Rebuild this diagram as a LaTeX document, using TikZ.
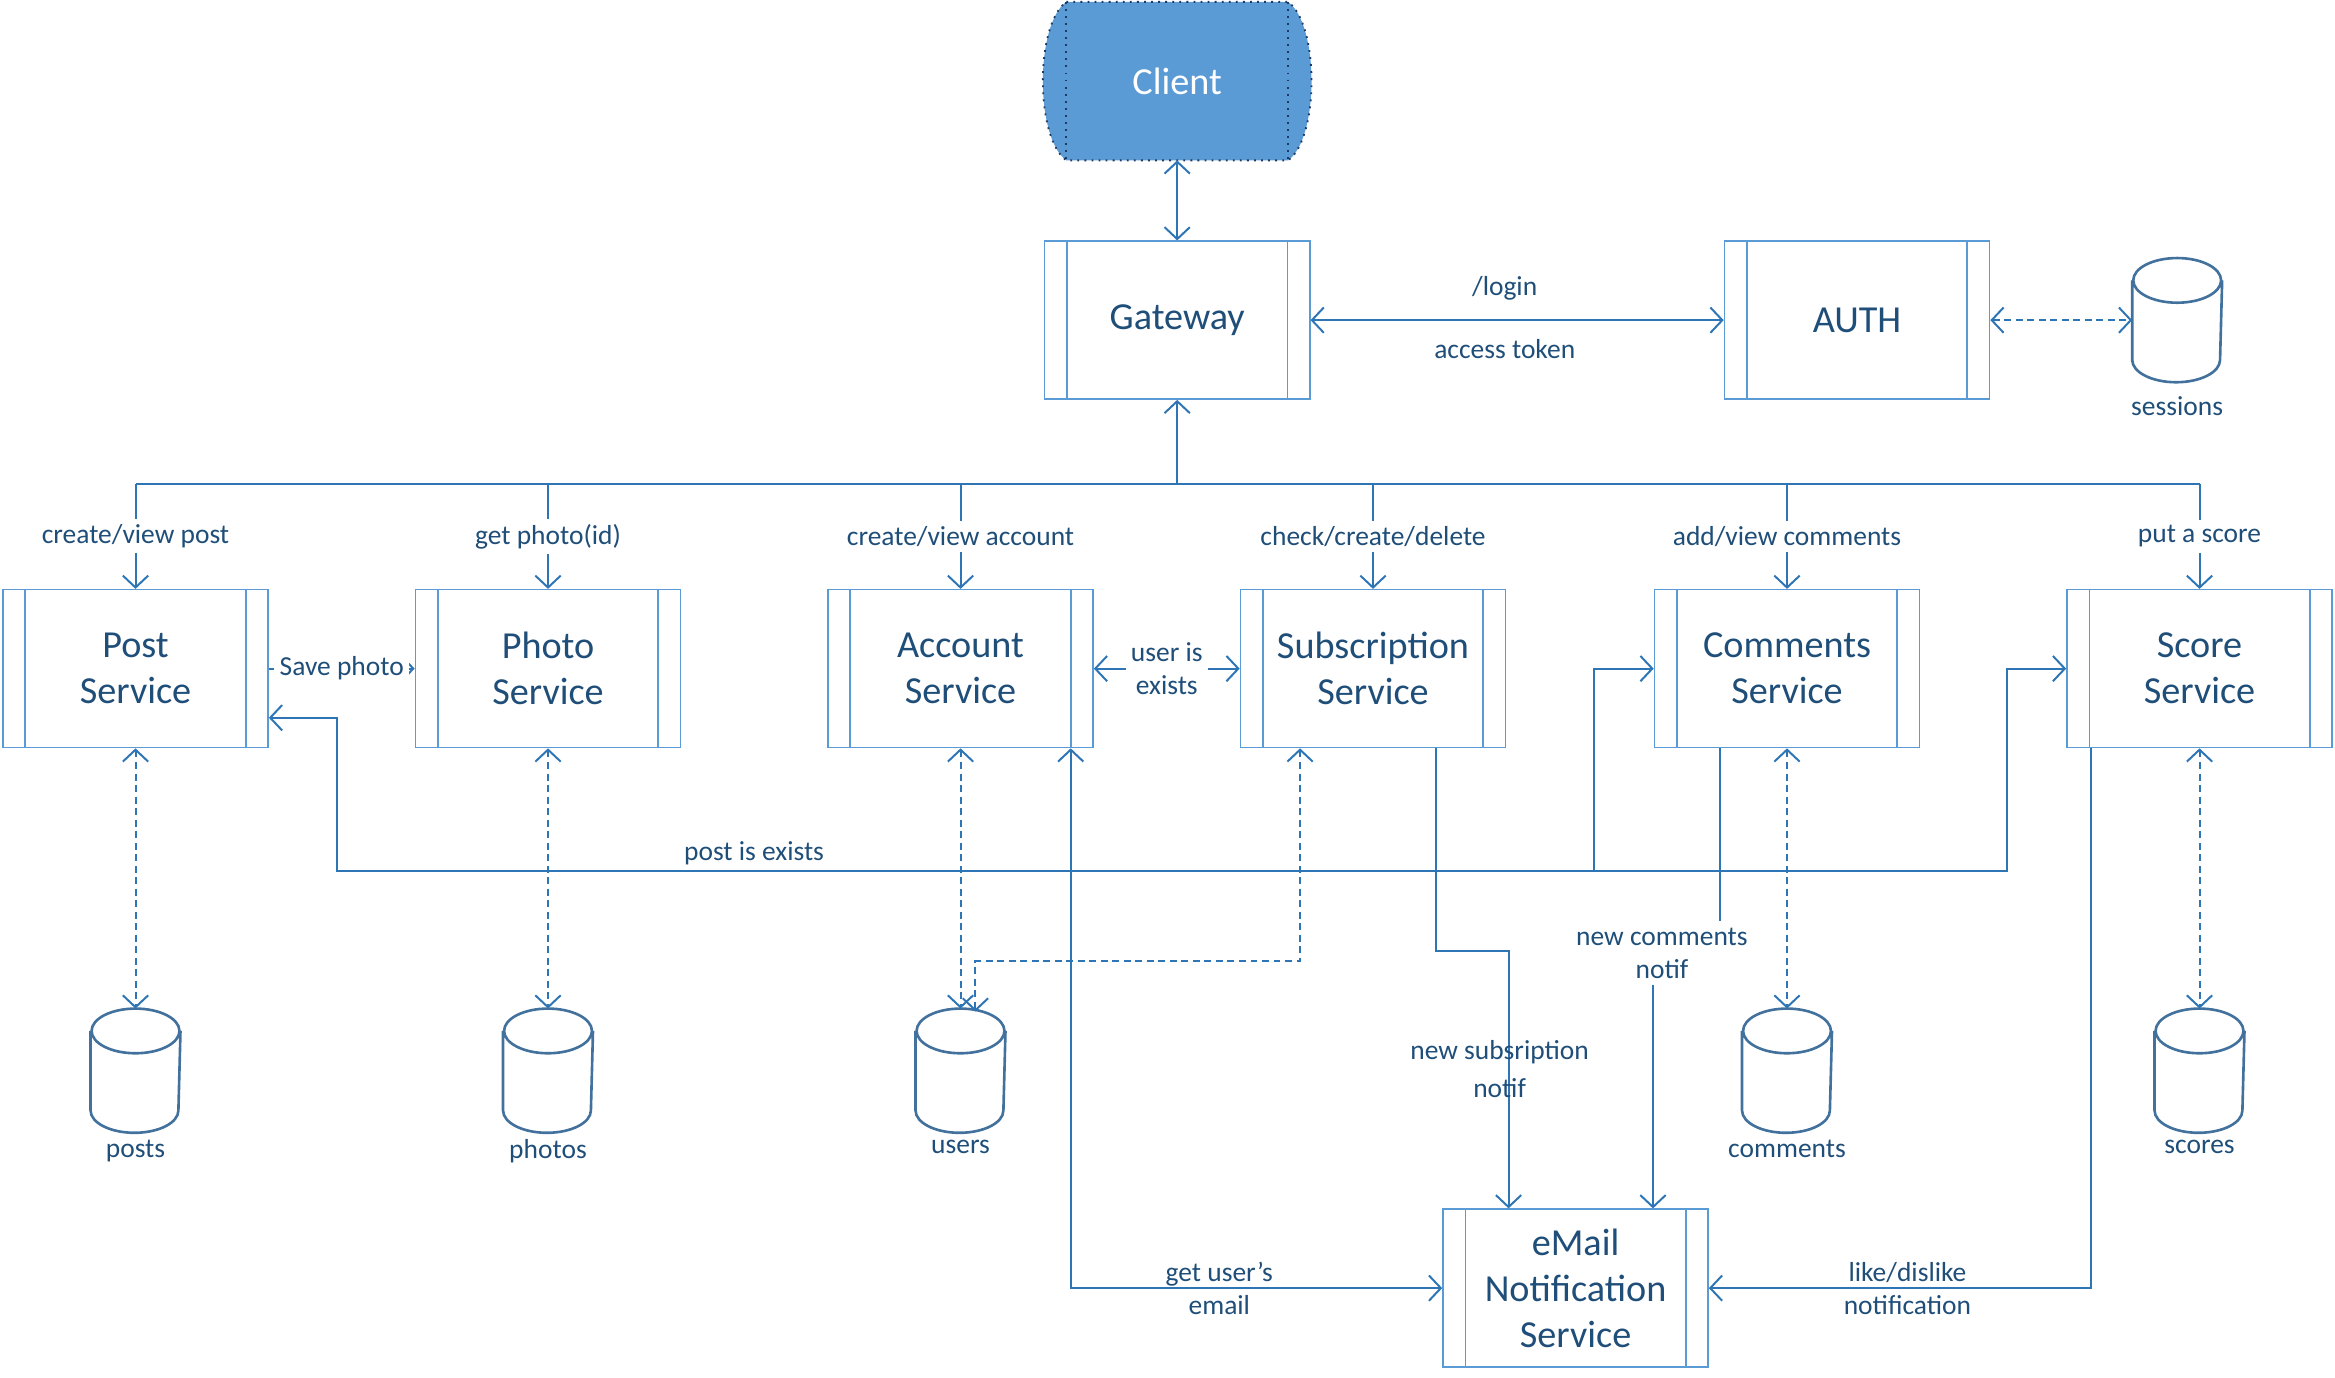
\documentclass[tikz,border=0pt]{standalone}
\usepackage{fontspec}
\setmainfont{Carlito}
\usetikzlibrary{arrows.meta,backgrounds,positioning}
\definecolor{boxblue}{HTML}{5B9BD5}
\definecolor{lineblue}{HTML}{2E75B6}
\definecolor{txtblue}{HTML}{1F4E79}
\definecolor{dbblue}{HTML}{41719C}
\definecolor{clientedge}{HTML}{1F3864}
\newcommand\boxfont{\fontsize{7.3}{8.8}\selectfont}
\newcommand\lblfont{\fontsize{5.25}{6.3}\selectfont}
\begin{document}
\begin{tikzpicture}[x=1cm,y=1cm,
  >={Straight Barb[length=0.8mm,width=1.7mm]},
  svc/.style={draw=boxblue,line width=0.3pt,minimum width=1.78cm,minimum height=1.06cm,inner sep=1pt,align=center,text=txtblue,font=\boxfont},
  db/.style={minimum width=0.59cm,minimum height=0.82cm,inner sep=0pt},
  dblbl/.style={lbl,inner sep=0pt,yshift=-0.4mm},
  lbl/.style={text=txtblue,font=\lblfont,inner sep=1pt,align=center},
  lblw/.style={lbl,fill=white},
  conn/.style={lineblue,line width=0.38pt},
  dotconn/.style={conn,<->,dash pattern=on 1.3pt off 0.9pt}]
\useasboundingbox (0,0) rectangle (15.68,-9.25);

\node[minimum width=1.475cm,minimum height=1.05cm,text=white,font=\boxfont] (client) at (7.905,-0.545) {Client};
\begin{scope}[on background layer]
\draw[fill=boxblue,draw=clientedge,line width=0.35pt,densely dotted] (client.north west) -- (client.north east) .. controls ([xshift=2.1mm,yshift=-1.5mm]client.north east) and ([xshift=2.1mm,yshift=1.5mm]client.south east) .. (client.south east) -- (client.south west) .. controls ([xshift=-2.1mm,yshift=1.5mm]client.south west) and ([xshift=-2.1mm,yshift=-1.5mm]client.north west) .. cycle;
\draw[clientedge,line width=0.35pt,densely dotted] (client.north west) -- (client.south west) (client.north east) -- (client.south east);
\end{scope}

\node[svc] (gw) at (7.905,-2.15) {Gateway};
\node[svc] (auth) at (12.47,-2.15) {AUTH};
\node[db,label={[dblbl,yshift=-0.5mm]below:sessions}] (sess) at (14.62,-2.15) {};

\node[svc] (post) at (0.91,-4.49) {Post\\Service};
\node[svc] (photo) at (3.68,-4.49) {Photo\\Service};
\node[svc] (acc) at (6.45,-4.49) {Account\\Service};
\node[svc] (sub) at (9.22,-4.49) {Subscription\\Service};
\node[svc] (com) at (12.00,-4.49) {Comments\\Service};
\node[svc] (score) at (14.77,-4.49) {Score\\Service};
\node[svc] (email) at (10.58,-8.65) {eMail\\Notification\\Service};

\node[db,label={[dblbl]below:posts}] (posts) at (0.91,-7.19) {};
\node[db,label={[dblbl]below:photos}] (photos) at (3.68,-7.19) {};
\node[db,label={[dblbl]below:users}] (users) at (6.45,-7.19) {};
\node[db,label={[dblbl]below:comments}] (comments) at (12.00,-7.19) {};
\node[db,label={[dblbl]below:scores}] (scores) at (14.77,-7.19) {};

\foreach \n in {gw,auth,post,photo,acc,sub,com,score,email}
  \draw[boxblue,line width=0.3pt] ([xshift=1.55mm]\n.north west) -- ([xshift=1.55mm]\n.south west)
    ([xshift=-1.55mm]\n.north east) -- ([xshift=-1.55mm]\n.south east);

\foreach \n in {sess,posts,photos,users,comments,scores}
  \draw[dbblue,line width=0.5pt] ([yshift=-1.5mm]\n.north) ellipse (2.95mm and 1.5mm)
    ([yshift=-1.5mm]\n.north west) -- ([yshift=1.5mm]\n.south west) arc (180:360:2.95mm and 1.5mm) -- ([yshift=-1.5mm]\n.north east);

\draw[conn,<->] (client) -- (gw);
\draw[conn,<->] (gw) -- (auth) node[lbl,pos=0.47,above=0.9mm]{/login} node[lbl,pos=0.47,below=0.9mm]{access token};
\draw[dotconn] (auth) -- (sess);

\coordinate (bus) at (0,-3.25);
\draw[conn] (post.north |- bus) -- (score.north |- bus);
\draw[conn,->] (gw.south |- bus) -- (gw.south);
\draw[conn,->] (post.north |- bus) -- (post.north) node[lblw,midway]{create/view post};
\draw[conn,->] (photo.north |- bus) -- (photo.north) node[lblw,midway]{get photo(id)};
\draw[conn,->] (acc.north |- bus) -- (acc.north) node[lblw,midway]{create/view account};
\draw[conn,->] (sub.north |- bus) -- (sub.north) node[lblw,midway]{check/create/delete};
\draw[conn,->] (com.north |- bus) -- (com.north) node[lblw,midway]{add/view comments};
\draw[conn,->] (score.north |- bus) -- (score.north) node[lblw,midway]{put a score};

\draw[conn,->] (post) -- (photo) node[lblw,midway]{Save photo};
\draw[conn,<->] (acc) -- (sub) node[lblw,midway]{user is\\exists};

\coordinate (pe) at (2.26,-5.85);
\coordinate (cw) at ([xshift=-4mm]com.west);
\draw[conn,<->] ([yshift=-3.3mm]post.east) -| (pe) -| ([xshift=-4mm]score.west) node[lbl,pos=0.125,above]{post is exists} -- (score.west);
\draw[conn,->] (cw |- pe) |- (com.west);

\draw[dotconn] (post) -- (posts);
\draw[dotconn] (photo) -- (photos);
\draw[dotconn] (acc) -- (users);
\draw[dotconn] (com) -- (comments);
\draw[dotconn] (score) -- (scores);
\draw[dotconn] ([xshift=-4.9mm]sub.south) -- ++(0,-1.43) -| ([xshift=1mm,yshift=-0.2mm]users.north);

\draw[conn,<->] ([xshift=7.4mm]acc.south) |- (email.west) node[lbl,pos=0.7]{get user’s\\email};
\draw[conn,->] ([xshift=-7.3mm]score.south) |- (email.east) node[lbl,pos=0.74]{like/dislike\\notification};
\draw[conn,->] ([xshift=4.2mm]sub.south) -- ++(0,-1.36) -| ([xshift=-4.5mm]email.north) node[lbl,pos=0.73,xshift=-0.6mm]{new subsription\\[1pt]notif};

\node[lbl] (ncn) at (11.16,-6.40) {new comments\\notif};
\coordinate (cs) at ([xshift=-4.5mm]com.south);
\coordinate (en) at ([xshift=5.2mm]email.north);
\draw[conn] (cs) -- (cs |- ncn.north);
\draw[conn,->] (en |- ncn.south) -- (en);
\end{tikzpicture}
\end{document}
